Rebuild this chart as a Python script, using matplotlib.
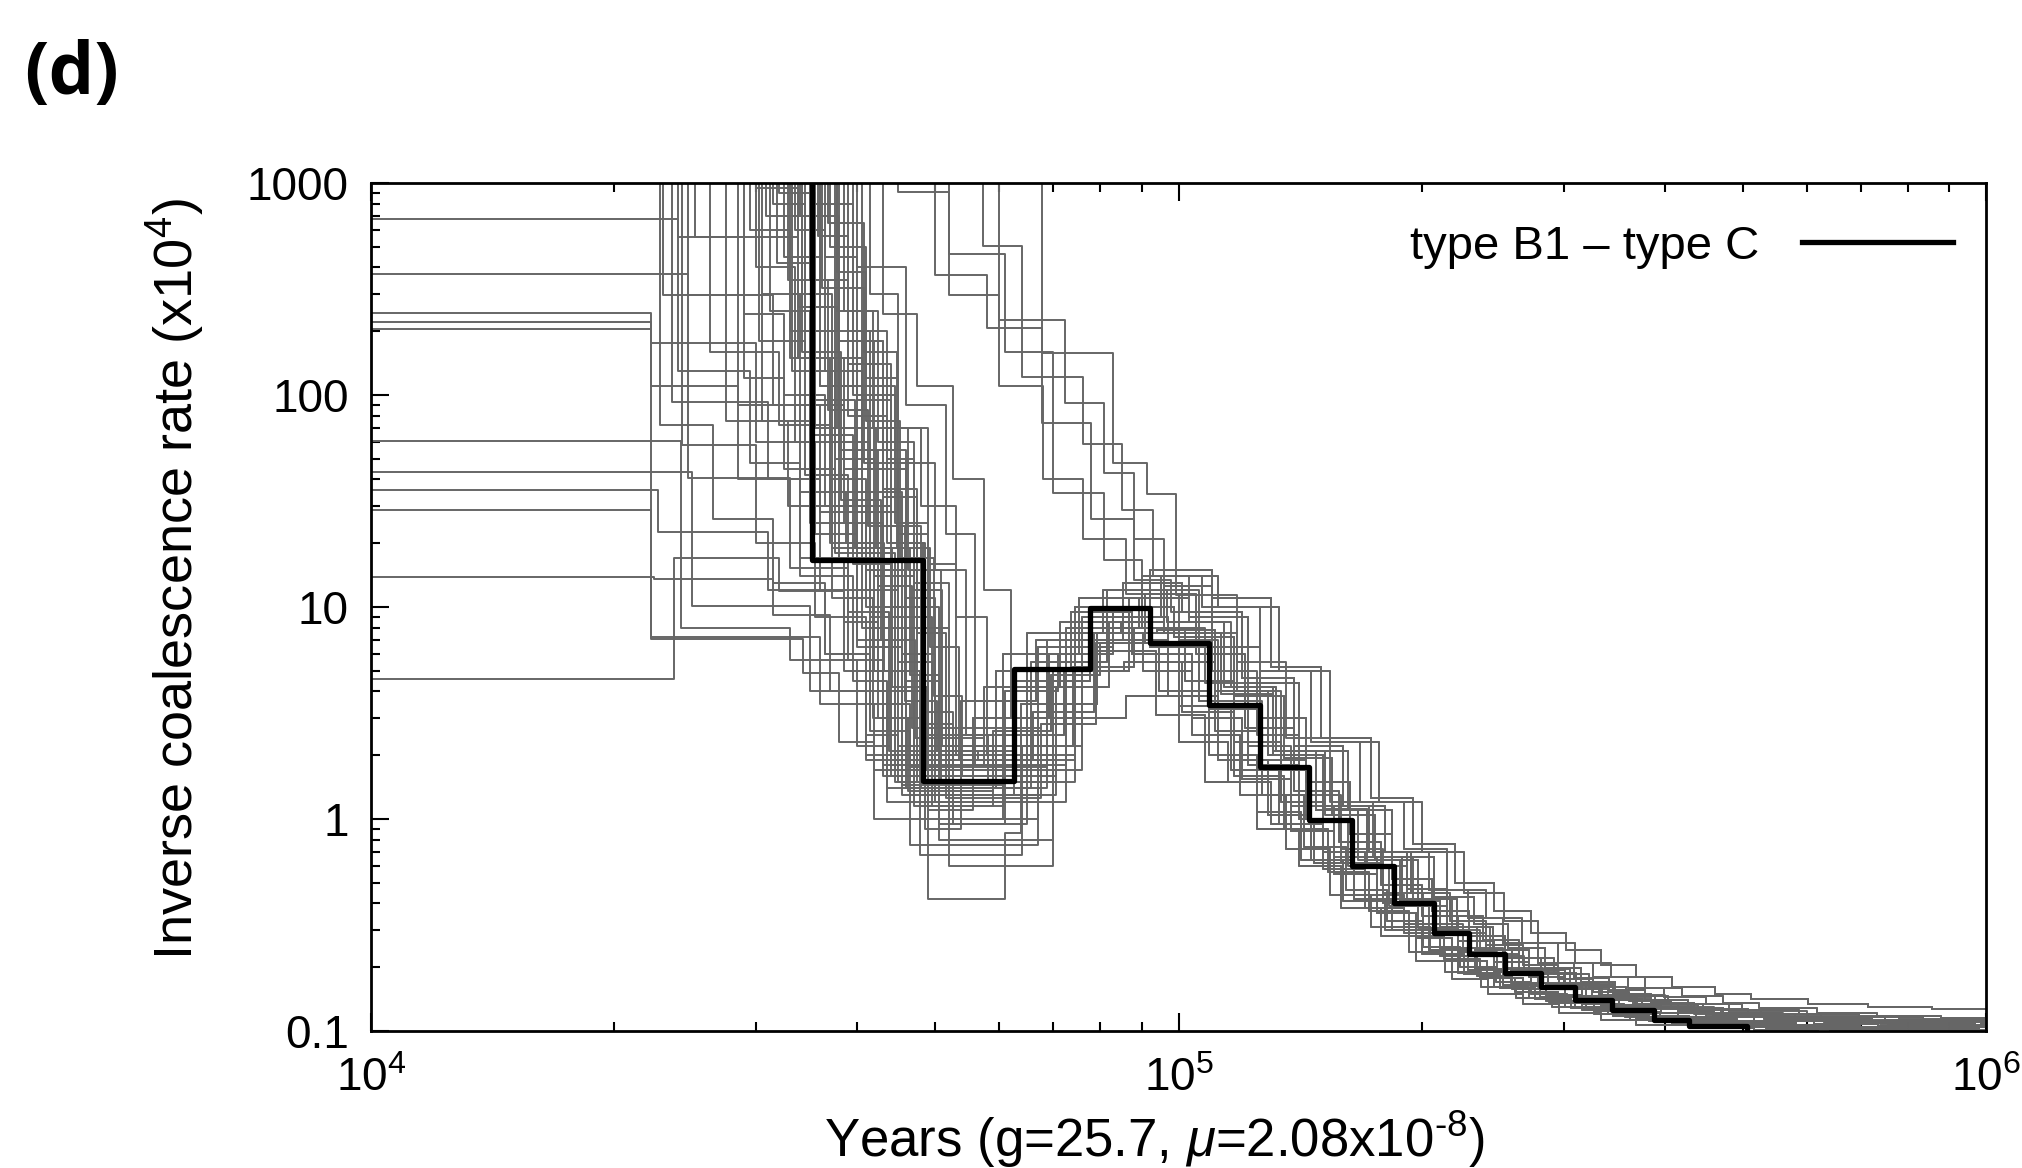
import matplotlib
matplotlib.use("Agg")
import matplotlib.pyplot as plt
from matplotlib.ticker import FixedLocator, LogLocator, NullFormatter

plt.rcParams['font.family'] = ['Liberation Sans', 'DejaVu Sans']
plt.rcParams['mathtext.fontset'] = 'custom'
plt.rcParams['mathtext.rm'] = 'Liberation Sans'
plt.rcParams['mathtext.it'] = 'Liberation Sans:italic'
plt.rcParams['mathtext.default'] = 'regular'

# ======================== DATA ========================
# black curve: segment start times (years) + final end, inverse coalescence rate (x1e4)
BLACK_T = [1000, 35200, 48300, 62500, 77600, 92200, 109000, 126000, 145000, 164000, 185000,
           207000, 229000, 254000, 281000, 310000, 344000, 388000, 429000, 506000, 700000]
BLACK_V = [3000, 16.6, 1.51, 5.1, 9.9, 6.8, 3.45, 1.76, 0.99, 0.6, 0.40,
           0.29, 0.232, 0.188, 0.161, 0.140, 0.125, 0.113, 0.106, 0.09]

# bootstrap curves, late part (rise after the dip and the decline), times have one extra end point
LATE_T = [
    [53800, 66700, 79300, 93700, 108000, 125000, 141000, 159000, 178000, 197000, 218000, 242000, 267000, 296000, 334000, 369000, 435000, 516000, 620000, 760000, 900000],
    [57500, 71400, 84800, 100000, 116000, 133000, 151000, 170000, 190000, 211000, 234000, 259000, 285000, 316000, 357000, 395000, 466000, 552000, 662000, 810000, 950000],
    [60600, 75300, 89400, 106000, 122000, 141000, 159000, 179000, 201000, 222000, 246000, 273000, 301000, 334000, 376000, 416000, 491000, 582000, 698000, 854000, 980000],
    [62500, 77600, 92200, 109000, 126000, 145000, 164000, 185000, 207000, 229000, 254000, 281000, 310000, 344000, 388000, 429000, 506000, 600000, 720000, 880000, 1000000],
    [65600, 81500, 96800, 114000, 132000, 152000, 172000, 194000, 217000, 240000, 267000, 295000, 326000, 361000, 407000, 450000, 531000, 630000, 756000, 924000, 1040000],
    [68800, 85400, 101000, 120000, 139000, 160000, 180000, 204000, 228000, 252000, 279000, 309000, 341000, 378000, 427000, 472000, 557000, 660000, 792000, 968000, 1060000],
    [72500, 90000, 107000, 126000, 146000, 168000, 190000, 215000, 240000, 266000, 295000, 326000, 360000, 399000, 450000, 498000, 587000, 696000, 835000, 1020000, 1080000],
    [76000, 95000, 112000, 133000, 154000, 177000, 200000, 226000, 253000, 279000, 310000, 343000, 378000, 420000, 473000, 523000, 617000, 732000, 880000, 1070000, 1100000],
    [70000, 86000, 100000, 115000, 130000, 147000, 165000, 184000, 205000, 228000, 252000, 280000, 310000, 345000, 390000, 440000, 520000, 640000, 800000, 960000],
    [55600, 69100, 82100, 97000, 112000, 129000, 146000, 165000, 184000, 204000, 226000, 250000, 276000, 306000, 345000, 382000, 450000, 534000, 641000, 783000, 930000],
    [59400, 73700, 87600, 104000, 120000, 138000, 156000, 176000, 197000, 218000, 241000, 267000, 295000, 327000, 369000, 408000, 481000, 570000, 684000, 836000, 970000],
    [63800, 79200, 94000, 111000, 129000, 148000, 167000, 189000, 211000, 234000, 259000, 287000, 316000, 351000, 396000, 438000, 516000, 612000, 734000, 898000, 1020000],
    [66900, 83000, 98700, 117000, 135000, 155000, 175000, 198000, 221000, 245000, 272000, 301000, 332000, 368000, 415000, 459000, 541000, 642000, 770000, 942000, 1050000],
    [70000, 86900, 103000, 122000, 141000, 162000, 184000, 207000, 232000, 256000, 284000, 315000, 347000, 385000, 435000, 480000, 567000, 672000, 806000, 986000, 1070000],
    [74400, 92300, 110000, 130000, 150000, 173000, 195000, 220000, 246000, 273000, 302000, 334000, 369000, 409000, 462000, 511000, 602000, 714000, 857000, 1040000, 1100000],
    [58100, 72200, 85700, 101000, 117000, 135000, 153000, 172000, 193000, 213000, 236000, 261000, 288000, 320000, 361000, 399000, 471000, 558000, 670000, 818000, 960000],
    [65000, 80700, 95900, 113000, 131000, 151000, 171000, 192000, 215000, 238000, 264000, 292000, 322000, 358000, 404000, 446000, 526000, 624000, 749000, 915000, 1060000],
    [64000, 74000, 88000, 102000, 117000, 134000, 151000, 170000, 190000, 211000, 233000, 258000, 285000, 316000, 356000, 395000, 465000, 550000, 660000, 800000, 940000],
    [61000, 71000, 83000, 97000, 111000, 127000, 143000, 161000, 181000, 201000, 223000, 247000, 273000, 303000, 341000, 378000, 446000, 528000, 634000, 775000, 920000],
    [67500, 79000, 91000, 105000, 121000, 139000, 158000, 178000, 200000, 222000, 246000, 272000, 300000, 333000, 375000, 415000, 490000, 580000, 696000, 850000, 1000000],
    [56500, 66000, 78500, 90500, 104000, 119000, 136000, 154000, 173000, 193000, 214000, 237000, 262000, 290000, 327000, 362000, 427000, 506000, 607000, 742000, 900000],
    [70500, 82000, 96000, 110000, 126000, 144000, 163000, 184000, 206000, 229000, 254000, 281000, 311000, 345000, 389000, 431000, 508000, 602000, 722000, 882000, 1040000],
    [59000, 69500, 80000, 94500, 109000, 125000, 142000, 160000, 180000, 200000, 222000, 246000, 272000, 301000, 340000, 376000, 443000, 525000, 630000, 770000, 920000],
]
LATE_V = [
    [3.6, 7.0, 6.2, 3.1, 1.5, 0.9, 0.6, 0.38, 0.28, 0.215, 0.175, 0.15, 0.134, 0.122, 0.113, 0.107, 0.103, 0.101, 0.099, 0.098],
    [4.2, 8.5, 7.5, 3.4, 1.7, 0.95, 0.58, 0.38, 0.29, 0.225, 0.182, 0.157, 0.139, 0.126, 0.116, 0.11, 0.106, 0.103, 0.101, 0.1],
    [6.0, 11, 8.0, 3.6, 1.8, 1.0, 0.62, 0.40, 0.30, 0.235, 0.19, 0.163, 0.145, 0.131, 0.121, 0.114, 0.109, 0.106, 0.104, 0.103],
    [4.5, 9.0, 6.5, 3.3, 1.7, 0.97, 0.6, 0.39, 0.295, 0.23, 0.187, 0.16, 0.142, 0.128, 0.118, 0.112, 0.107, 0.104, 0.102, 0.101],
    [5.5, 12, 8.5, 4.2, 2.1, 1.15, 0.7, 0.45, 0.33, 0.255, 0.205, 0.175, 0.153, 0.138, 0.127, 0.12, 0.114, 0.11, 0.107, 0.105],
    [7.0, 13, 9.5, 4.6, 2.2, 1.15, 0.7, 0.46, 0.34, 0.26, 0.21, 0.178, 0.156, 0.14, 0.129, 0.122, 0.116, 0.112, 0.109, 0.107],
    [8.0, 14, 10, 5.0, 2.3, 1.2, 0.72, 0.46, 0.34, 0.26, 0.21, 0.18, 0.16, 0.145, 0.134, 0.126, 0.12, 0.116, 0.113, 0.111],
    [9.0, 14, 10, 5.0, 2.3, 1.2, 0.7, 0.45, 0.33, 0.26, 0.21, 0.18, 0.16, 0.146, 0.135, 0.128, 0.122, 0.118, 0.115, 0.113],
    [3.0, 3.8, 2.3, 1.5, 0.95, 0.62, 0.42, 0.31, 0.24, 0.195, 0.165, 0.145, 0.13, 0.12, 0.112, 0.107, 0.104, 0.102, 0.1],
    [3.0, 6.0, 7.0, 3.8, 1.9, 1.05, 0.64, 0.41, 0.3, 0.23, 0.186, 0.16, 0.142, 0.128, 0.118, 0.111, 0.106, 0.103, 0.101, 0.1],
    [5.0, 9.5, 6.0, 3.0, 1.55, 0.88, 0.55, 0.36, 0.275, 0.215, 0.177, 0.152, 0.136, 0.124, 0.115, 0.109, 0.105, 0.102, 0.1, 0.099],
    [3.5, 7.5, 7.8, 4.0, 2.0, 1.1, 0.66, 0.42, 0.31, 0.24, 0.194, 0.166, 0.147, 0.133, 0.122, 0.116, 0.111, 0.108, 0.106, 0.104],
    [6.5, 10, 7.2, 3.8, 1.95, 1.05, 0.64, 0.42, 0.31, 0.24, 0.195, 0.168, 0.148, 0.134, 0.124, 0.118, 0.113, 0.11, 0.108, 0.107],
    [5.0, 11, 9.0, 4.4, 2.1, 1.1, 0.66, 0.43, 0.32, 0.245, 0.198, 0.17, 0.15, 0.136, 0.126, 0.12, 0.115, 0.112, 0.11, 0.108],
    [10, 15, 11, 5.2, 2.4, 1.25, 0.76, 0.5, 0.37, 0.29, 0.24, 0.205, 0.18, 0.162, 0.15, 0.141, 0.134, 0.13, 0.127, 0.125],
    [2.5, 5.0, 5.5, 3.2, 1.6, 0.9, 0.56, 0.37, 0.28, 0.218, 0.178, 0.153, 0.137, 0.125, 0.116, 0.11, 0.106, 0.103, 0.101, 0.1],
    [7.5, 12, 7.5, 3.9, 2.0, 1.12, 0.7, 0.47, 0.35, 0.27, 0.22, 0.185, 0.162, 0.146, 0.134, 0.126, 0.12, 0.116, 0.113, 0.112],
    [2.2, 5.2, 8.0, 4.5, 2.3, 1.2, 0.7, 0.44, 0.32, 0.245, 0.197, 0.168, 0.148, 0.134, 0.123, 0.116, 0.11, 0.106, 0.104, 0.102],
    [4.0, 6.0, 9.0, 5.5, 2.6, 1.3, 0.74, 0.46, 0.33, 0.25, 0.2, 0.17, 0.15, 0.135, 0.124, 0.117, 0.111, 0.107, 0.104, 0.102],
    [2.8, 6.8, 11.5, 6.0, 2.7, 1.35, 0.78, 0.49, 0.35, 0.265, 0.212, 0.18, 0.158, 0.142, 0.13, 0.122, 0.116, 0.112, 0.109, 0.107],
    [1.9, 3.2, 7.5, 5.0, 2.5, 1.3, 0.72, 0.44, 0.31, 0.235, 0.19, 0.162, 0.143, 0.13, 0.12, 0.113, 0.108, 0.105, 0.103, 0.101],
    [4.2, 8.5, 12.5, 6.5, 3.0, 1.5, 0.85, 0.52, 0.37, 0.28, 0.222, 0.188, 0.164, 0.147, 0.135, 0.127, 0.12, 0.115, 0.112, 0.11],
    [2.6, 4.8, 6.8, 4.0, 2.0, 1.08, 0.64, 0.41, 0.3, 0.232, 0.188, 0.161, 0.143, 0.13, 0.12, 0.113, 0.108, 0.105, 0.103, 0.101],
]

# bootstrap curves, early part (down to the dip) + which late part follows
EARLY_T = [
    # fast drop from the top
    [1000, 29500, 33000, 37000, 41000, 45000],
    [1000, 30500, 34000, 38500, 43000],
    [1000, 31500, 34500, 38000, 41500, 46000],
    [1000, 32500, 36000, 40000, 44000, 48000],
    [1000, 33000, 37500, 42000, 47000],
    [1000, 34000, 38000, 42000, 46000, 50000],
    [1000, 35000, 39000, 43500, 48500],
    [1000, 36000, 40500, 45500, 50000],
    [1000, 37000, 41000, 45000, 49000],
    [1000, 38500, 42500, 47000, 52000],
    [1000, 39500, 44500, 49000, 61000],
    [1000, 32000, 35500, 40000, 44500, 49000],
    [1000, 30000, 33500, 38000, 43000, 46500],
    [1000, 41500, 45000, 49000, 53000],
    [1000, 31200, 35000, 39500, 44000, 48000],
    [1000, 33500, 36500, 40500, 45000, 49500],
    [1000, 34500, 38500, 43000, 47500],
    [1000, 35500, 39500, 43500, 47000, 51000],
    [1000, 29000, 32500, 37500, 42500, 47000],
    [1000, 32800, 36800, 41200, 45800, 50500],
    [1000, 34800, 37800, 41800, 46200, 50800],
    [1000, 36500, 40000, 44000, 48200, 52500],
    [1000, 30800, 34200, 38200, 42800, 47200],
    [1000, 37500, 41500, 46000, 50500],
    [1000, 31800, 35200, 39800, 44200, 48800],
    [1000, 33200, 37000, 41500, 45500],
    [1000, 35800, 39000, 43000, 47500, 51500],
    [1000, 30200, 34500, 39000, 43800],
    [1000, 37800, 41000, 45200, 49800, 54000],
    [1000, 32200, 36200, 40800, 45000, 49500],
    [1000, 28500, 34000, 38800, 43200, 47800],
    [1000, 34200, 38000, 42500, 46800],
    [1000, 36800, 40800, 44800, 49200, 53500],
    [1000, 39000, 43000, 47500, 52000],
    [1000, 30000, 33800, 37800, 42200, 46500, 50500],
    [1000, 27500, 32800, 37200, 41800, 46200],
    [1000, 40500, 44000, 48000, 52500],
    [1000, 33800, 37200, 41000, 45800, 50200],
    [1000, 38000, 43000, 48000, 53000, 58000],
    [1000, 40000, 46000, 51500, 56000],
    [1000, 43000, 47500, 52500, 57500, 62000],
    [1000, 36000, 44500, 50000, 54500],
    # plateau from the left edge
    [1000, 24000, 33800, 37500, 41500, 45500],
    [1000, 24700, 31500, 36000, 40500, 44500],
    [1000, 22200, 30000, 35500, 40000, 44000],
    [1000, 22200, 28500, 34000, 39500, 43500],
    [1000, 22200, 34300, 38000, 42000],
    [1000, 24200, 33000, 40000, 44000],
    [1000, 25000, 35000, 41000],
    [1000, 22700, 31000, 36500, 41000, 45500],
    [1000, 22200, 36000, 42000],
    [1000, 22400, 31500, 37000, 43500],
    [1000, 23700, 32000, 38500, 44000],
    # early drop around 23-26 kyr
    [1000, 23000, 30500, 35000, 40000, 44500],
    [1000, 23600, 31000, 36000, 41500, 45500],
    [1000, 24300, 30000, 35500, 41000, 45000],
    [1000, 25200, 29000, 32500, 36500, 41000, 45500],
    [1000, 26300, 32000, 37000, 42000, 46000],
    [1000, 24700, 33000, 39000, 43000],
    [1000, 24000, 29500, 34000, 38500, 42500, 47000],
    [1000, 22800, 26500, 31500, 36500, 41500, 46500],
]
EARLY_V = [
    [3000, 600, 150, 40, 12, 2.2],
    [3000, 300, 90, 25, 1.8],
    [3000, 800, 200, 60, 15, 1.6],
    [3000, 450, 110, 30, 8, 1.4],
    [3000, 200, 50, 14, 1.9],
    [3000, 700, 180, 45, 11, 1.2],
    [3000, 350, 80, 20, 0.9],
    [3000, 150, 35, 6, 1.7],
    [3000, 500, 120, 22, 2.5],
    [3000, 250, 60, 13, 0.6],
    [3000, 100, 25, 0.42, 0.86],
    [3000, 900, 70, 18, 4, 1.1],
    [3000, 400, 60, 17, 3.5, 0.75],
    [3000, 300, 70, 16, 2.0],
    [3000, 250, 65, 16, 3.0, 1.6],
    [3000, 600, 130, 28, 5.5, 1.9],
    [3000, 150, 45, 10, 1.5],
    [3000, 800, 200, 50, 12, 2.2],
    [3000, 120, 45, 18, 4.0, 1.3],
    [3000, 350, 85, 24, 4.5, 0.8],
    [3000, 1200, 250, 70, 15, 1.5],
    [3000, 450, 95, 20, 3.2, 1.0],
    [3000, 700, 160, 32, 7.0, 2.4],
    [3000, 200, 55, 10, 1.8],
    [3000, 420, 95, 19, 4.2, 1.7],
    [3000, 130, 30, 6.5, 1.45],
    [3000, 560, 140, 33, 7.5, 1.25],
    [3000, 180, 42, 9.5, 2.1],
    [3000, 380, 75, 17, 3.8, 1.6],
    [3000, 1500, 320, 48, 9, 1.15],
    [3000, 90, 35, 20, 5.0, 0.68],
    [3000, 260, 55, 12.5, 2.7],
    [3000, 650, 160, 19, 6.5, 1.9],
    [3000, 180, 36, 8.0, 1.3],
    [3000, 950, 260, 70, 19, 4.8, 0.95],
    [3000, 75, 30, 11, 3.0, 1.35],
    [3000, 140, 24, 2.8, 0.95],
    [3000, 300, 19, 15, 3.6, 2.1],
    [3000, 180, 70, 30, 9, 2.0],
    [3000, 400, 90, 22, 1.8],
    [3000, 240, 110, 40, 12, 3.0],
    [3000, 110, 48, 15, 2.5],
    [676, 556, 150, 35, 9, 1.7],
    [372, 296, 90, 28, 8, 1.5],
    [244, 176, 60, 22, 6.5, 2.0],
    [221, 110, 40, 14, 4.5, 1.2],
    [205, 7.1, 4.9, 2.3, 1.0],
    [61, 8.0, 5.6, 2.2, 1.6],
    [43.4, 10.1, 4.0, 1.9],
    [35.6, 22.5, 12.0, 6.0, 2.0, 1.5],
    [28.7, 7.2, 3.5, 1.7],
    [13.9, 13.5, 9.2, 4.0, 1.4],
    [4.57, 17, 11.9, 5.0, 1.8],
    [3000, 296, 75, 25, 7, 1.9],
    [3000, 93, 40, 12, 3.5, 1.3],
    [3000, 58, 20, 9, 2.5, 1.5],
    [3000, 556, 240, 100, 30, 10, 2.0],
    [3000, 160, 72, 20, 5, 1.4],
    [3000, 40.6, 15.3, 5.6, 1.6],
    [3000, 130, 48, 17, 8.5, 3.0, 1.15],
    [3000, 72, 26, 13, 6, 2.6, 1.75],
]
EARLY_LATE = [3, 1, 4, 5, 2, 6, 0, 7, 10, 8, 11, 9, 12, 13, 9, 14, 15, 7, 3, 8, 5, 2, 1, 6,
              17, 18, 19, 20, 21, 22, 17, 19, 20, 21, 18, 22, 16, 3, 5, 13, 14, 21,
              10, 9, 11, 0, 12, 10, 13, 14, 15, 4, 8,
              11, 12, 13, 14, 10, 16, 2, 5]

# bootstrap curves that stay high longer (drawn whole)
LATE_DROP_T = [
    [1000, 67800, 83000, 91500, 99300, 118000, 136000, 154000, 174000, 195000, 218000, 243000, 272000, 305000, 345000, 400000, 480000, 600000, 780000, 1000000, 1100000],
    [1000, 60000, 72400, 80800, 88000, 96000, 106000, 118000, 134000, 152000, 171000, 192000, 215000, 240000, 268000, 300000, 340000, 395000, 470000, 600000, 780000, 950000],
    [1000, 57200, 64000, 76200, 85000, 93000, 103000, 116000, 131000, 148000, 167000, 188000, 211000, 236000, 264000, 296000, 335000, 385000, 460000, 580000, 750000, 920000],
    [1000, 49900, 58000, 67800, 78000, 88000, 98000, 110000, 125000, 141000, 159000, 179000, 201000, 225000, 252000, 283000, 320000, 370000, 440000, 560000, 720000, 900000],
    [1000, 52000, 61000, 70000, 80800, 90000, 100000, 112000, 127000, 144000, 162000, 182000, 204000, 228000, 255000, 287000, 325000, 375000, 450000, 570000, 740000, 910000],
    [1000, 45000, 52000, 60000, 68000, 76200, 86000, 96000, 108000, 122000, 138000, 156000, 176000, 198000, 222000, 248000, 279000, 316000, 365000, 435000, 550000, 720000, 880000],
]
LATE_DROP_V = [
    [3000, 158, 48, 34, 11.4, 5.5, 2.4, 1.2, 0.66, 0.42, 0.31, 0.24, 0.197, 0.168, 0.148, 0.134, 0.124, 0.118, 0.114, 0.112],
    [3000, 226, 92, 43, 21, 12, 7.5, 4.0, 2.0, 1.05, 0.6, 0.39, 0.29, 0.225, 0.185, 0.158, 0.14, 0.128, 0.118, 0.112, 0.108],
    [3000, 503, 122, 59, 28.7, 14, 8.5, 4.2, 2.1, 1.1, 0.64, 0.41, 0.3, 0.232, 0.19, 0.162, 0.143, 0.13, 0.12, 0.113, 0.109],
    [3000, 368, 207, 74, 26, 13.4, 9.5, 5.0, 2.5, 1.3, 0.72, 0.45, 0.32, 0.245, 0.198, 0.168, 0.147, 0.133, 0.122, 0.115, 0.11],
    [3000, 462, 160, 34.5, 16.7, 11.5, 7.0, 3.6, 1.9, 1.0, 0.6, 0.39, 0.29, 0.225, 0.185, 0.158, 0.14, 0.127, 0.118, 0.112, 0.108],
    [3000, 908, 296, 110, 40, 21, 11.5, 8.0, 4.4, 2.2, 1.15, 0.66, 0.42, 0.305, 0.235, 0.19, 0.162, 0.143, 0.13, 0.12, 0.113, 0.109],
]

Y_TICKS = [0.1, 1, 10, 100, 1000]
Y_TICK_LABELS = ['0.1', '1', '10', '100', '1000']
GRAY = '#666666'

# ======================== PLOT ========================
fig = plt.figure(figsize=(20.22, 11.68), dpi=100)
ax = fig.add_axes([371 / 2022, 1 - 1031 / 1168, 1615 / 2022, 848 / 1168])

for et, ev, k in zip(EARLY_T, EARLY_V, EARLY_LATE):
    xs = et + LATE_T[k]
    ys = ev + LATE_V[k] + [LATE_V[k][-1]]
    ax.step(xs, ys, where='post', color=GRAY, lw=1.4, zorder=2)

for lt, lv in zip(LATE_DROP_T, LATE_DROP_V):
    ax.step(lt, lv + [lv[-1]], where='post', color=GRAY, lw=1.4, zorder=2)

ax.step(BLACK_T, BLACK_V + [BLACK_V[-1]], where='post', color='black', lw=3.8,
        zorder=3, label='type B1 \u2013 type C')

ax.set_xscale('log')
ax.set_yscale('log')
ax.set_xlim(1e4, 1e6)
ax.set_ylim(0.1, 1000)

ax.yaxis.set_major_locator(FixedLocator(Y_TICKS))
ax.set_yticklabels(Y_TICK_LABELS)
ax.yaxis.set_minor_locator(LogLocator(base=10, subs=range(2, 10)))
ax.yaxis.set_minor_formatter(NullFormatter())
ax.xaxis.set_minor_locator(LogLocator(base=10, subs=range(2, 10)))
ax.xaxis.set_minor_formatter(NullFormatter())

ax.tick_params(which='both', direction='in', top=True, right=False, width=1.5)
ax.tick_params(which='major', length=13)
ax.tick_params(which='minor', length=6.5)
ax.tick_params(axis='x', which='major', labelsize=33, pad=19)
ax.tick_params(axis='y', which='major', labelsize=33, pad=16)
for sp in ax.spines.values():
    sp.set_linewidth(2)

ax.legend(loc='upper right', bbox_to_anchor=(1.0, 0.99), markerfirst=False, frameon=False,
          fontsize=34, handlelength=3.2, handletextpad=0.9, borderaxespad=0.3)

fig.text(193 / 2022, 0.504, 'Inverse coalescence rate (x10$^4$)', rotation=90,
         rotation_mode='anchor', ha='center', va='baseline', fontsize=39)
fig.text(0.571, 0.0094, 'Years (g=25.7, $\\mathit{\\mu}$=2.08x10$^{\u20108}$)',
         ha='center', va='baseline', fontsize=38)
fig.text(24 / 2022, 0.9195, '(d)', ha='left', va='baseline', fontsize=52,
         fontweight='bold', family=['Open Sans', 'DejaVu Sans'])

fig.savefig('out.png', dpi=100)
